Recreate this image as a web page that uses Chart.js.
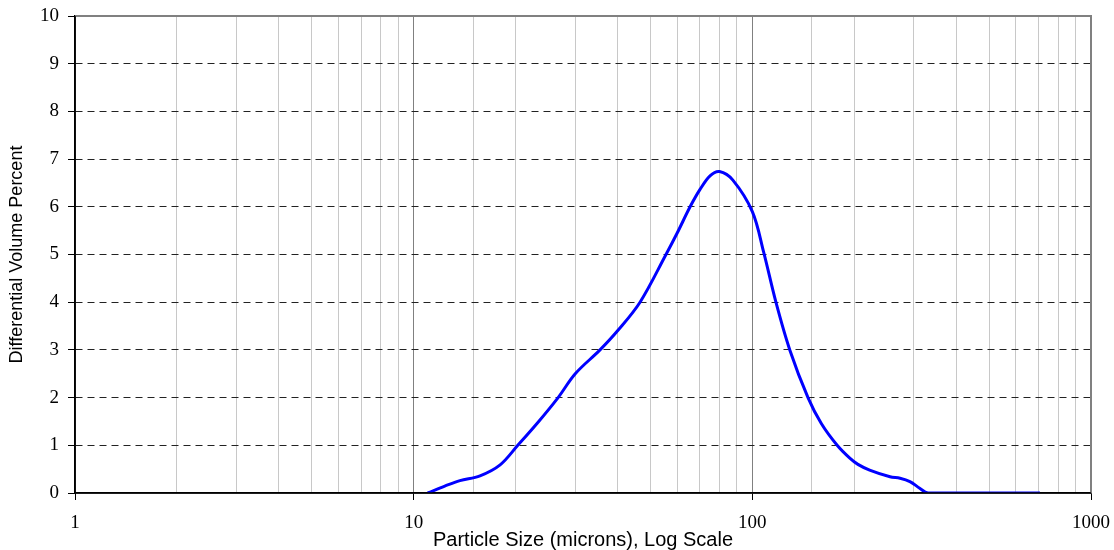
<!DOCTYPE html>
<html>
<head>
<meta charset="utf-8">
<script src="https://cdn.jsdelivr.net/npm/chart.js@4.4.1/dist/chart.umd.min.js"></script>
<style>
  html, body { margin: 0; padding: 0; background: #ffffff; }
  #wrap { width: 1114px; height: 550px; }
</style>
</head>
<body>
<div id="wrap"><canvas id="c" width="1114" height="550"></canvas></div>
<script>
// Particle size (microns) and differential volume percent
const sizes = [11.0, 12.4, 13.7, 15.7, 18.0, 20.3, 23.4, 26.7, 30, 35.5, 40, 46.6, 55.6, 60, 65.5, 70, 75, 80, 87.6, 100, 108, 117.4, 129, 146, 160, 178, 194, 205, 222, 255, 273, 292, 312, 330, 400, 500, 600, 707];
const volumes = [0, 0.15, 0.26, 0.36, 0.59, 1.0, 1.5, 2.0, 2.5, 3.0, 3.4, 4.0, 5.0, 5.45, 6.0, 6.36, 6.65, 6.74, 6.56, 5.9, 5.05, 4.0, 3.0, 2.0, 1.45, 1.0, 0.73, 0.6, 0.48, 0.34, 0.31, 0.24, 0.1, 0, 0, 0, 0, 0];
const xTickLabels = ['1', '10', '100', '1000'];
const yMin = 0, yMax = 10;

const points = sizes.map((s, i) => ({ x: s, y: volumes[i] }));

const isMajor = v => Math.abs(Math.log10(v) - Math.round(Math.log10(v))) < 1e-9;

const framePlugin = {
  id: 'frame',
  afterDraw(chart) {
    const { ctx, chartArea: a } = chart;
    ctx.save();
    ctx.strokeStyle = '#808080';
    ctx.lineWidth = 2;
    ctx.beginPath();
    ctx.moveTo(a.left, a.top);
    ctx.lineTo(a.right, a.top);
    ctx.lineTo(a.right, a.bottom);
    ctx.stroke();
    ctx.strokeStyle = '#000000';
    ctx.lineWidth = 1.5;
    ctx.beginPath();
    ctx.moveTo(a.left, a.top);
    ctx.lineTo(a.left, a.bottom);
    ctx.lineTo(a.right, a.bottom);
    ctx.stroke();
    ctx.restore();
  }
};

new Chart(document.getElementById('c'), {
  type: 'line',
  data: {
    datasets: [{
      data: points,
      borderColor: '#0000ff',
      borderWidth: 3,
      pointRadius: 0,
      fill: false,
      tension: 0.35
    }]
  },
  options: {
    responsive: false,
    animation: false,
    layout: { padding: { left: 0, right: 23, top: 16, bottom: 0 } },
    plugins: { legend: { display: false }, tooltip: { enabled: false } },
    scales: {
      x: {
        type: 'logarithmic',
        min: 1,
        max: 1000,
        afterFit: s => { s.height = 57; s.paddingLeft = 0; s.paddingRight = 0; },
        grid: {
          color: ctx => (ctx.tick && isMajor(ctx.tick.value)) ? '#808080' : '#c8c8c8',
          lineWidth: 1,
          tickLength: 7,
          tickColor: ctx => (ctx.tick && isMajor(ctx.tick.value)) ? '#000000' : 'rgba(0,0,0,0)'
        },
        border: { display: true, color: '#000000', width: 1.5 },
        ticks: {
          autoSkip: false,
          maxRotation: 0,
          padding: 12,
          color: '#000000',
          font: { family: 'Liberation Serif', size: 19 },
          callback: v => {
            const s = String(v);
            return (isMajor(v) && xTickLabels.includes(s)) ? s : '';
          }
        },
        title: {
          display: true,
          text: 'Particle Size (microns), Log Scale',
          color: '#000000',
          font: { family: 'Liberation Sans', size: 20 },
          padding: { top: 0, bottom: -2 }
        }
      },
      y: {
        min: yMin,
        max: yMax,
        afterFit: s => { s.width = 75; s.paddingTop = 0; s.paddingBottom = 0; },
        grid: {
          color: ctx => (ctx.tick && (ctx.tick.value === yMin || ctx.tick.value === yMax)) ? 'rgba(0,0,0,0)' : '#222222',
          lineWidth: 1,
          tickLength: 7,
          tickColor: '#000000'
        },
        border: { display: true, color: '#000000', width: 1.5, dash: [7, 5] },
        ticks: {
          stepSize: 1,
          padding: 9,
          color: '#000000',
          font: { family: 'Liberation Serif', size: 19 }
        },
        title: {
          display: true,
          text: 'Differential Volume Percent',
          color: '#000000',
          font: { family: 'Liberation Sans', size: 18 },
          padding: { top: 6, bottom: 0 }
        }
      }
    }
  },
  plugins: [framePlugin]
});
</script>
</body>
</html>
